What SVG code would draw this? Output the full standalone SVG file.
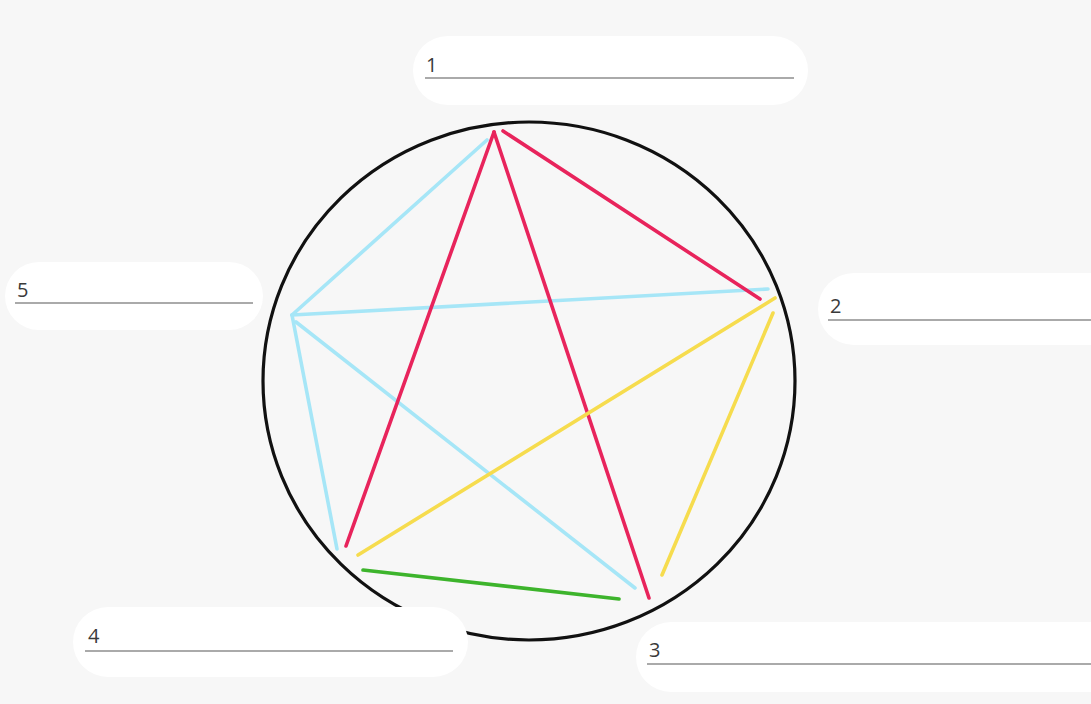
<svg xmlns="http://www.w3.org/2000/svg" width="1091" height="704" viewBox="0 0 1091 704">
<style>
.bg{fill:#f7f7f7}
.ring{fill:none;stroke:#111;stroke-width:3.2}
.box{fill:#ffffff}
.ul{stroke:#8e8e8e;stroke-width:1.6}
.lbl{font-family:"Open Sans","Liberation Sans",sans-serif;font-size:20px;fill:#3a3a3a}
.ln{fill:none;stroke-width:3.6;stroke-linecap:round}
.red{stroke:#e8245c}
.cyan{stroke:#a6e6f7}
.yellow{stroke:#f6dc4e}
.green{stroke:#3db42c}
</style>
<rect class="bg" x="0" y="0" width="1091" height="704"/>
<ellipse id="circle" class="ring" cx="529" cy="381" rx="266" ry="259"/>
<g id="connectors">
<line class="ln cyan" x1="487" y1="140" x2="292" y2="315"/>
<line class="ln cyan" x1="292" y1="315" x2="768" y2="289"/>
<line class="ln cyan" x1="292" y1="315" x2="337" y2="549"/>
<line class="ln cyan" x1="296" y1="322" x2="635" y2="588"/>
<line class="ln red" x1="494" y1="132" x2="346" y2="546"/>
<line class="ln red" x1="494" y1="132" x2="649" y2="598"/>
<line class="ln red" x1="503" y1="131" x2="760" y2="299"/>
<line class="ln yellow" x1="775" y1="298" x2="358" y2="555"/>
<line class="ln yellow" x1="773" y1="313" x2="662" y2="575"/>
<line class="ln green" x1="363" y1="570" x2="619" y2="599"/>
</g>
<g id="node1">
<rect class="box" x="413" y="36" width="395" height="69" rx="34.5"/>
<text class="lbl" x="426" y="72">1</text>
<line class="ul" x1="425" y1="78" x2="794" y2="78"/>
</g>
<g id="node2">
<rect class="box" x="818" y="273" width="320" height="72" rx="36"/>
<text class="lbl" x="830" y="313">2</text>
<line class="ul" x1="828" y1="320" x2="1091" y2="320"/>
</g>
<g id="node3">
<rect class="box" x="636" y="622" width="500" height="70" rx="35"/>
<text class="lbl" x="649" y="657">3</text>
<line class="ul" x1="647" y1="664" x2="1091" y2="664"/>
</g>
<g id="node4">
<rect class="box" x="73" y="607" width="395" height="70" rx="35"/>
<text class="lbl" x="88" y="643">4</text>
<line class="ul" x1="85" y1="651" x2="453" y2="651"/>
</g>
<g id="node5">
<rect class="box" x="5" y="262" width="258" height="68" rx="34"/>
<text class="lbl" x="17" y="297">5</text>
<line class="ul" x1="15" y1="303" x2="253" y2="303"/>
</g>
</svg>
